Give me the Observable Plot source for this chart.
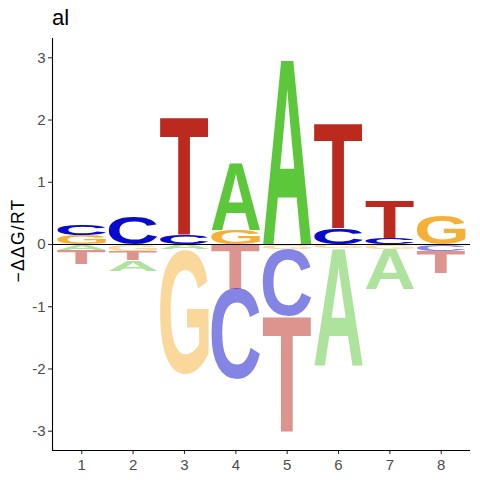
<!DOCTYPE html>
<html>
<head>
<meta charset="utf-8">
<script src="https://cdn.jsdelivr.net/npm/d3@7"></script>
<script src="https://cdn.jsdelivr.net/npm/@observablehq/plot@0.6"></script>
<style>
  body { margin: 0; background: white; }
  #wrap { position: relative; width: 480px; height: 480px; }
  #title { position: absolute; left: 52px; top: 7px; font-family: "Liberation Sans", Arial, sans-serif; font-size: 22px; line-height: 22px; color: black; }
  svg [aria-label^="x-axis"] text, svg [aria-label^="y-axis"] text { fill: #4D4D4D; font-size: 15px; }
  svg [aria-label^="x-axis"] path, svg [aria-label^="y-axis"] path,
  svg [aria-label^="x-axis"] line, svg [aria-label^="y-axis"] line { stroke: #333333; stroke-width: 1.1; }
</style>
</head>
<body>
<div id="wrap"><div id="title">al</div></div>
<script>
const positions = [1, 2, 3, 4, 5, 6, 7, 8];
const alphabet = ["A", "C", "G", "T"];
const valuesA = [-0.09, -0.17, -0.08, 1.08, 3.00, -1.90, -0.65, 0];
const valuesC = [0.17, 0.44, 0.15, -1.45, -1.07, 0.26, 0.10, -0.11];
const valuesG = [0.15, -0.10, -2.00, 0.23, -0.07, -0.06, -0.07, 0.47];
const valuesT = [-0.23, -0.15, 1.90, -0.72, -1.85, 1.69, 0.61, -0.35];
const letterColors = ["#5DC73B", "#0A0ACC", "#F5B137", "#BC2A1F"];
const yTicks = [-3, -2, -1, 0, 1, 2, 3];
const xTicks = positions;
const yLabel = "\u2212\u0394\u0394G/RT";
const xDomain = [0.43, 8.57];
const yDomain = [-3.31, 3.31];
const letterWidth = 0.95;

const series = [valuesA, valuesC, valuesG, valuesT];
const rows = [];
positions.forEach((p, i) => {
  const items = alphabet.map((l, k) => ({pos: p, letter: l, value: series[k][i], color: letterColors[k]}))
    .filter(d => d.value !== 0);
  const ups = items.filter(d => d.value > 0).sort((a, b) => a.value - b.value);
  let acc = 0;
  ups.forEach(d => { d.y1 = acc; acc += d.value; d.y2 = acc; });
  const downs = items.filter(d => d.value < 0).sort((a, b) => b.value - a.value);
  acc = 0;
  downs.forEach(d => { d.y2 = acc; acc += d.value; d.y1 = acc; });
  rows.push(...ups, ...downs);
});
const up = rows.filter(d => d.value > 0);
const down = rows.filter(d => d.value < 0);

const FONT = "'Liberation Sans', Arial, sans-serif";

const plot = Plot.plot({
  width: 480,
  height: 480,
  marginLeft: 52,
  marginRight: 10,
  marginTop: 38,
  marginBottom: 30,
  style: {fontFamily: FONT, fontSize: "15px", background: "white", color: "#4D4D4D"},
  x: {type: "linear", domain: xDomain, ticks: xTicks, tickFormat: d => String(d), tickSize: 4, tickPadding: 5, label: null},
  y: {domain: yDomain, ticks: yTicks, tickFormat: d => String(d), tickSize: 4, tickPadding: 3, label: null},
  marks: [
    Plot.text(up, {x: "pos", y: d => (d.y1 + d.y2) / 2, text: "letter", fill: "color", fontSize: 100, fontWeight: "bold"}),
    Plot.text(down, {x: "pos", y: d => (d.y1 + d.y2) / 2, text: "letter", fill: "color", fillOpacity: 0.5, fontSize: 100, fontWeight: "bold"}),
    Plot.ruleY([0], {stroke: "black", strokeWidth: 1}),
    Plot.ruleX([xDomain[0]], {stroke: "black", strokeWidth: 1.1}),
    Plot.ruleY([yDomain[0]], {stroke: "black", strokeWidth: 1.1}),
    Plot.text([yLabel], {frameAnchor: "left", textAnchor: "middle", lineAnchor: "middle", text: d => d, dx: -34.5, dy: -4, rotate: -90, fontSize: 17.5, fill: "black"})
  ]
});
document.getElementById("wrap").prepend(plot);

// stretch each letter glyph to fill its stacked box
const xs = plot.scale("x"), ys = plot.scale("y");
const ctx = document.createElement("canvas").getContext("2d");
ctx.font = "bold 100px " + FONT;
const groups = plot.querySelectorAll('g[aria-label="text"]');
[up, down].forEach((data, gi) => {
  const texts = groups[gi].querySelectorAll("text");
  texts.forEach((t, i) => {
    const d = data[i];
    const m = ctx.measureText(d.letter);
    const L = m.actualBoundingBoxLeft, R = m.actualBoundingBoxRight;
    const A = m.actualBoundingBoxAscent, D = m.actualBoundingBoxDescent;
    const X0 = xs.apply(d.pos - letterWidth / 2), X1 = xs.apply(d.pos + letterWidth / 2);
    const Yt = ys.apply(d.y2), Yb = ys.apply(d.y1);
    const sx = (X1 - X0) / (L + R), sy = (Yb - Yt) / (A + D);
    t.removeAttribute("x"); t.removeAttribute("y"); t.removeAttribute("dy");
    t.setAttribute("text-anchor", "start");
    t.setAttribute("font-size", "100");
    t.setAttribute("font-weight", "bold");
    t.setAttribute("font-family", FONT);
    t.setAttribute("transform", `translate(${X0 + L * sx},${Yt + A * sy}) scale(${sx},${sy})`);
  });
});
plot.querySelectorAll("text").forEach(t => {
  if (t.textContent === yLabel) t.setAttribute("letter-spacing", "1.3px");
});
</script>
</body>
</html>
